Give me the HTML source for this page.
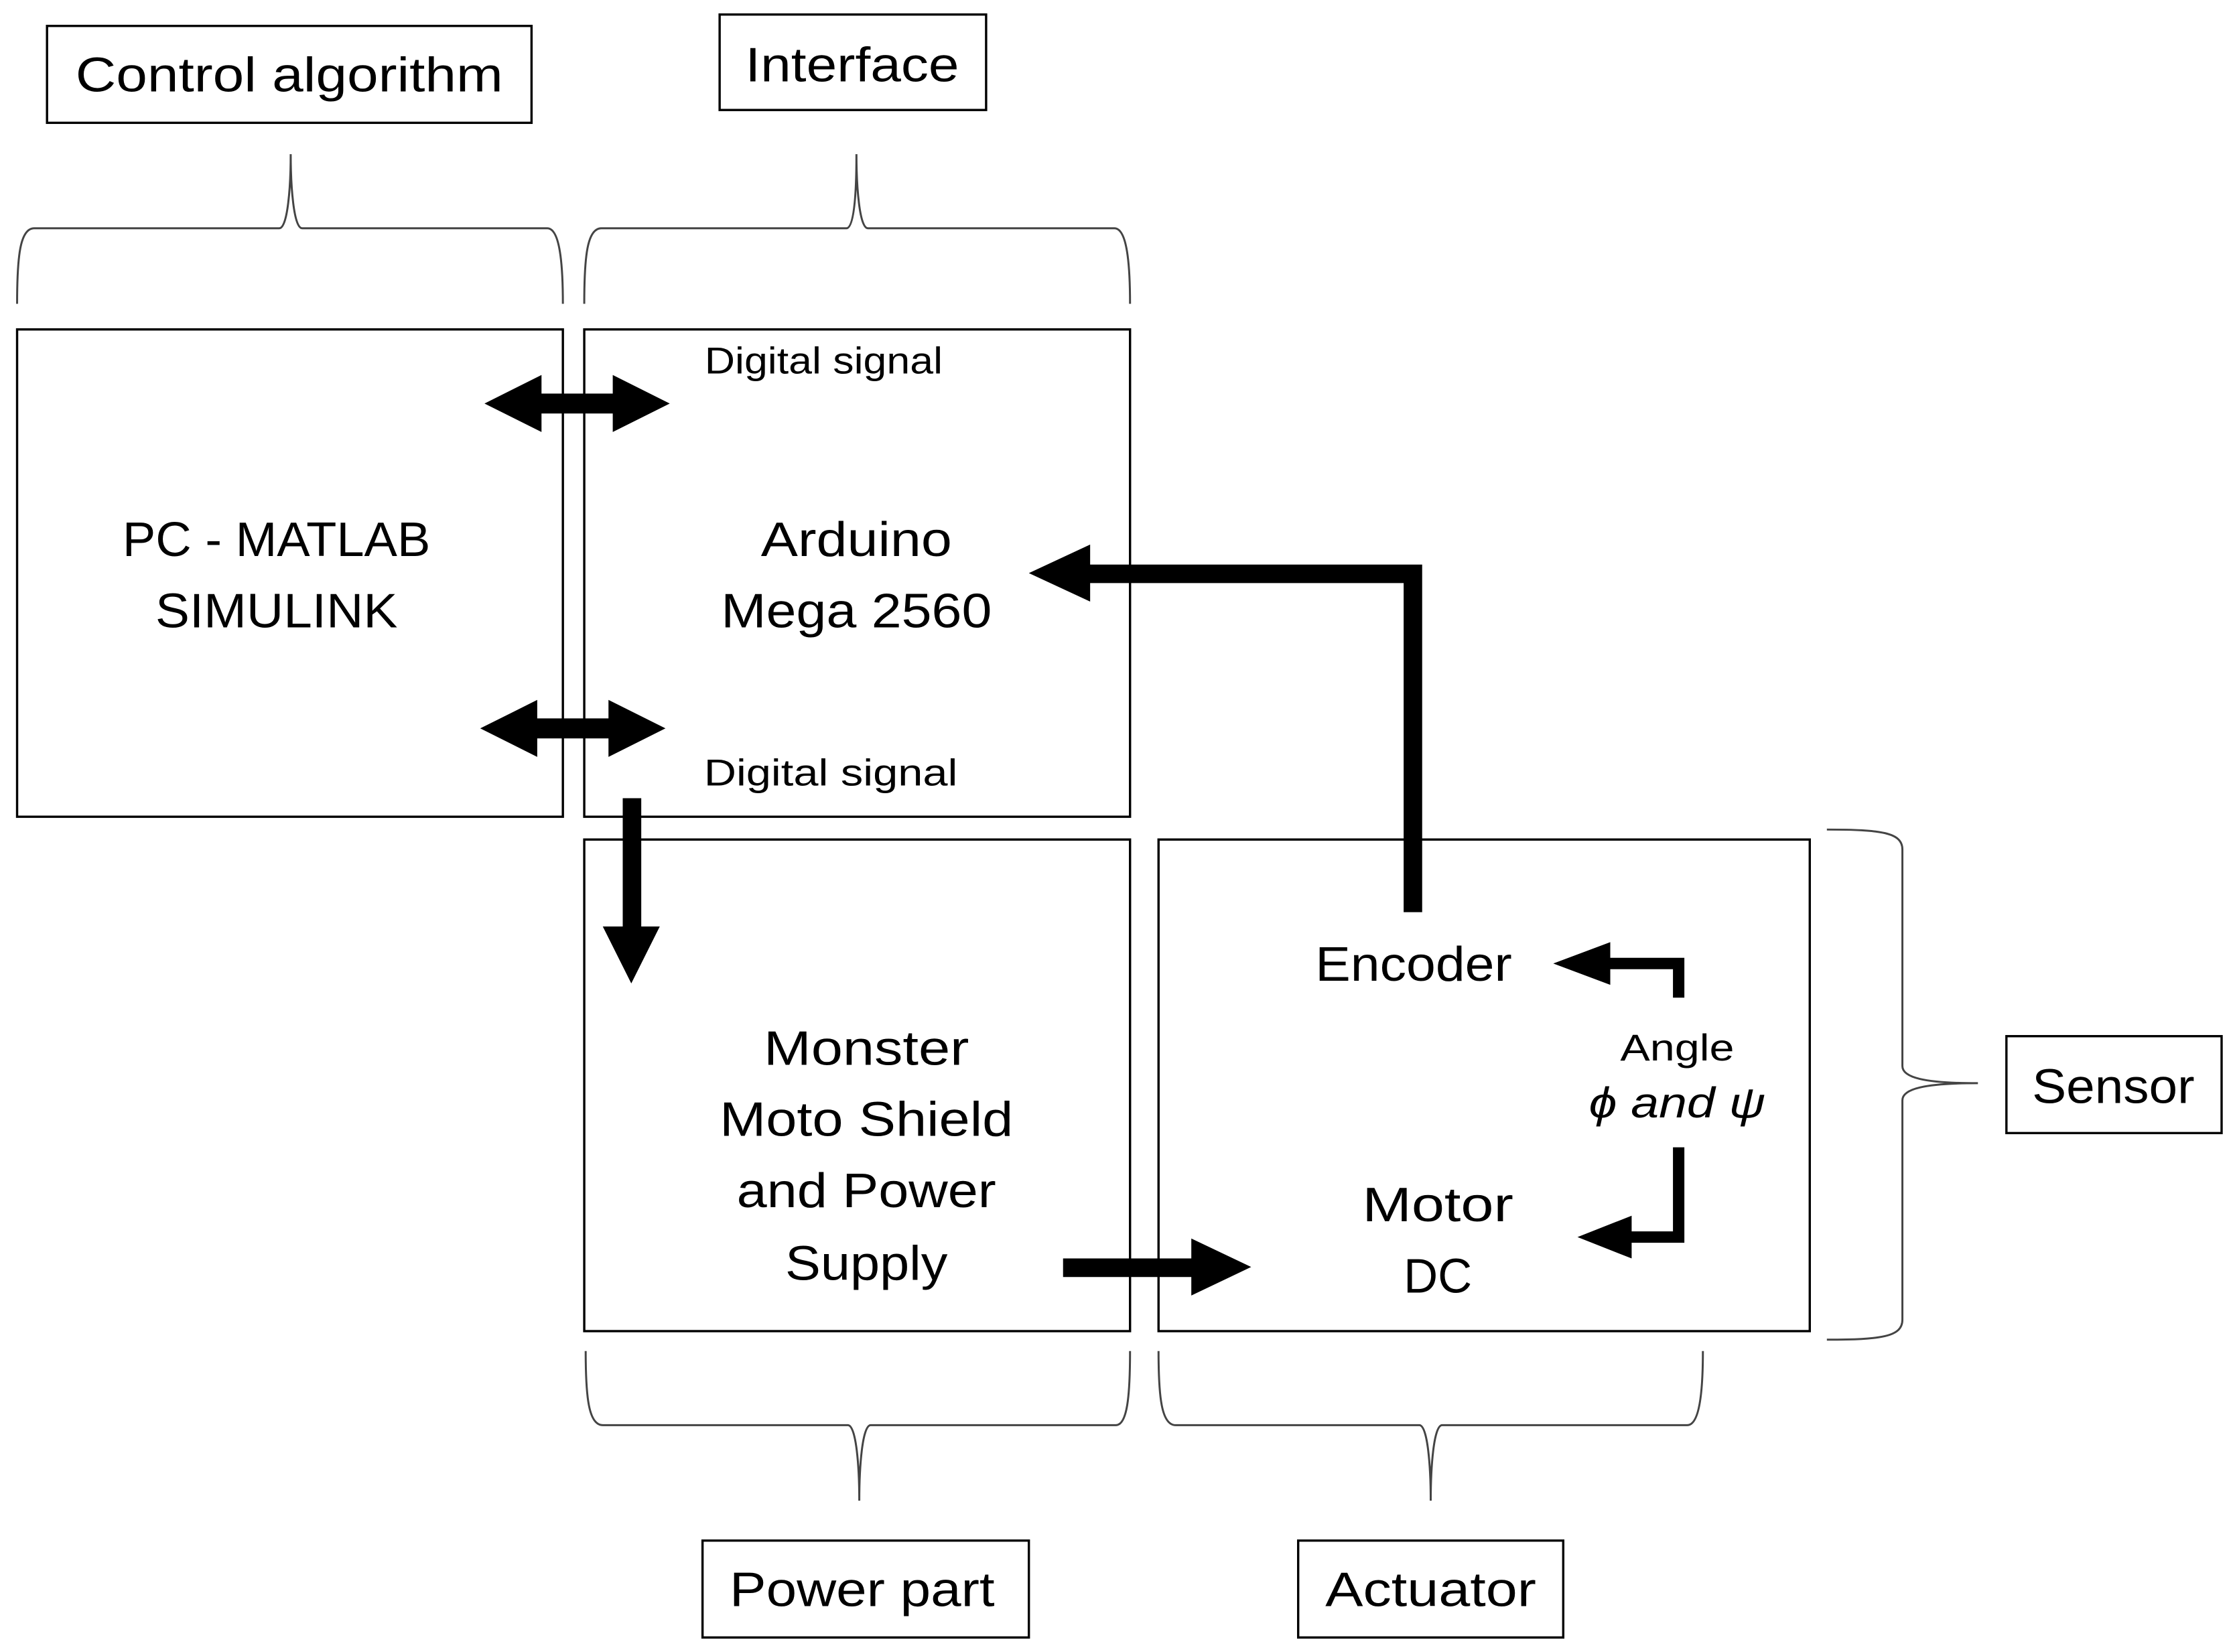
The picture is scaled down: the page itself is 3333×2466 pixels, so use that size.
<!DOCTYPE html>
<html><head><meta charset="utf-8"><style>
html,body{margin:0;padding:0;background:#fff}
svg{display:block}
text{font-family:"Liberation Sans",sans-serif;fill:#000}
</style></head><body>
<svg width="3333" height="2466" viewBox="0 0 1567 1159" xmlns="http://www.w3.org/2000/svg">
<rect width="1567" height="1159" fill="#fff"/>
<g fill="none" stroke="#000" stroke-width="1.6">
<rect x="33" y="18" width="340" height="68"/>
<rect x="505" y="10" width="187" height="67"/>
<rect x="12" y="231" width="383" height="342"/>
<rect x="410" y="231" width="383" height="342"/>
<rect x="410" y="589" width="383" height="345"/>
<rect x="813" y="589" width="457" height="345"/>
<rect x="1408" y="727" width="151" height="68"/>
<rect x="493" y="1081" width="229" height="68"/>
<rect x="911" y="1081" width="186" height="68"/>
</g>
<g fill="none" stroke="#444" stroke-width="1.4">
<path d="M12,213 C12,180 14,160 24,160 L196,160 C202,160 204,130 204,108 C204,130 206,160 212,160 L384,160 C392,160 395,180 395,213"/>
<path d="M410,213 C410,180 412,160 422,160 L594,160 C600,160 601,130 601,108 C601,130 603,160 609,160 L782,160 C790,160 793,180 793,213"/>
<path d="M411,948 C411,980 413,1000 423,1000 L595,1000 C601,1000 603,1030 603,1053 C603,1030 605,1000 611,1000 L783,1000 C791,1000 793,980 793,948"/>
<path d="M813,948 C813,980 815,1000 825,1000 L996,1000 C1002,1000 1004,1030 1004,1053 C1004,1030 1006,1000 1012,1000 L1184,1000 C1192,1000 1195,980 1195,948"/>
<path d="M1282,582 C1320,582 1335,584 1335,596 L1335,748 C1335,756 1350,760 1388,760 C1350,760 1335,764 1335,772 L1335,926 C1335,938 1320,940 1282,940"/>
</g>
<g fill="#000" stroke="none">
<!-- double arrows -->
<polygon points="340,283 380,263 380,276 430,276 430,263 470,283 430,303 430,290 380,290 380,303"/>
<polygon points="337,511 377,491 377,504 427,504 427,491 467,511 427,531 427,518 377,518 377,531"/>
<!-- encoder feedback -->
<polygon points="985,640 998,640 998,396 765,396 765,382 722,402 765,422 765,409 985,409"/>
<!-- down arrow -->
<polygon points="437,560 450,560 450,650 463,650 443,690 423,650 437,650"/>
<!-- right arrow -->
<polygon points="746,883 836,883 836,869 878,889 836,909 836,896 746,896"/>
<!-- small arrows -->
<polygon points="1174,700 1182,700 1182,672 1130,672 1130,661 1090,676 1130,691 1130,680 1174,680"/>
<polygon points="1174,805 1182,805 1182,872 1145,872 1145,883 1107,868 1145,853 1145,864 1174,864"/>
</g>
<g font-size="34" text-anchor="middle">
<text x="203" y="64" textLength="300" lengthAdjust="spacingAndGlyphs">Control algorithm</text>
<text x="598" y="57" textLength="150" lengthAdjust="spacingAndGlyphs">Interface</text>
<text x="1483" y="774" textLength="114" lengthAdjust="spacingAndGlyphs">Sensor</text>
<text x="605" y="1127" textLength="186" lengthAdjust="spacingAndGlyphs">Power part</text>
<text x="1004" y="1127" textLength="148" lengthAdjust="spacingAndGlyphs">Actuator</text>
<text x="194" y="390" textLength="216" lengthAdjust="spacingAndGlyphs">PC - MATLAB</text>
<text x="194" y="440" textLength="170" lengthAdjust="spacingAndGlyphs">SIMULINK</text>
<text x="601" y="390" textLength="134" lengthAdjust="spacingAndGlyphs">Arduino</text>
<text x="601" y="440" textLength="190" lengthAdjust="spacingAndGlyphs">Mega 2560</text>
<text x="608" y="747" textLength="144" lengthAdjust="spacingAndGlyphs">Monster</text>
<text x="608" y="797" textLength="206" lengthAdjust="spacingAndGlyphs">Moto Shield</text>
<text x="608" y="847" textLength="182" lengthAdjust="spacingAndGlyphs">and Power</text>
<text x="608" y="898" textLength="114" lengthAdjust="spacingAndGlyphs">Supply</text>
<text x="992" y="688" textLength="138" lengthAdjust="spacingAndGlyphs">Encoder</text>
<text x="1009" y="857" textLength="106" lengthAdjust="spacingAndGlyphs">Motor</text>
<text x="1009" y="907" textLength="48" lengthAdjust="spacingAndGlyphs">DC</text>
</g>
<g font-size="26" text-anchor="middle">
<text x="578" y="262" textLength="167" lengthAdjust="spacingAndGlyphs">Digital signal</text>
<text x="583" y="551" textLength="178" lengthAdjust="spacingAndGlyphs">Digital signal</text>
<text x="1177" y="744" textLength="80" lengthAdjust="spacingAndGlyphs">Angle</text>
<text x="1177" y="784" font-family="Liberation Serif,serif" font-style="italic" font-size="30" textLength="124" lengthAdjust="spacingAndGlyphs">ϕ and ψ</text>
</g>
</svg>
</body></html>
